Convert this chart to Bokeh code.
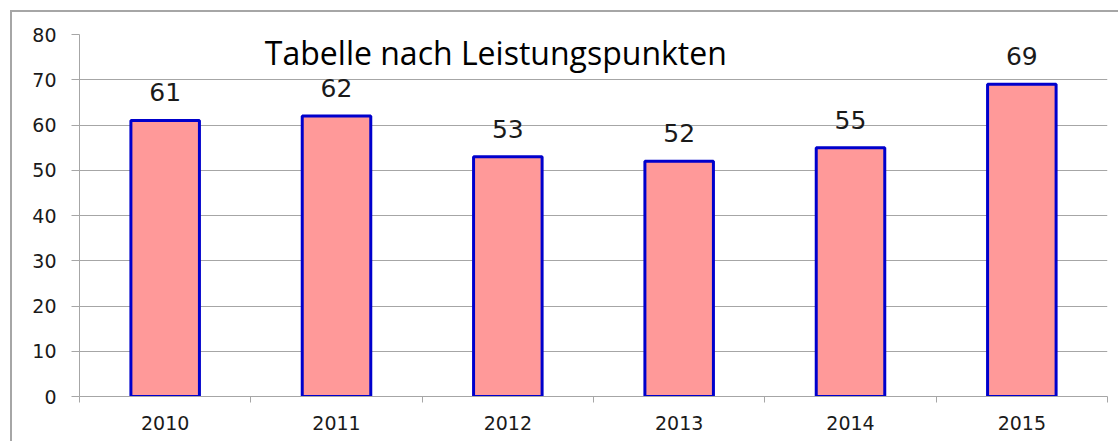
import numpy as np
from bokeh.plotting import figure
from bokeh.models import ColumnDataSource, Range1d, FixedTicker, LabelSet, Label
from bokeh.core.properties import value
from bokeh.embed import file_html
from bokeh.resources import INLINE

years = ["2010", "2011", "2012", "2013", "2014", "2015"]
points = [61, 62, 53, 52, 55, 69]
title_text = "Tabelle nach Leistungspunkten"
y_ticks = [0, 10, 20, 30, 40, 50, 60, 70, 80]

n = len(years)
xpos = np.arange(n) + 0.5
src = ColumnDataSource(dict(x=xpos, top=points, label=[str(v) for v in points]))

p = figure(width=1108, height=431, output_backend="svg", toolbar_location=None,
           x_range=Range1d(0, n), y_range=Range1d(0, 80),
           min_border_left=67, min_border_right=13, min_border_top=22,
           min_border_bottom=47)
p.styles = {"margin-left": "10px", "margin-top": "10px",
            "border-left": "2px solid #a6a6a6", "border-top": "2px solid #a6a6a6"}
p.outline_line_color = None
p.background_fill_color = "white"
p.border_fill_color = "white"

grid_gray = "#a6a6a6"
text_col = "#1a1a1a"

p.vbar(x="x", top="top", width=0.4, bottom=0, source=src,
       fill_color="#ff9999", line_color="#0000cc", line_width=3)

p.add_layout(LabelSet(x="x", y="top", text="label", source=src, y_offset=19,
                      text_align="center", text_baseline="alphabetic",
                      text_font=value("DejaVu Sans"), text_font_size=value("25px"),
                      text_color=value(text_col)))

p.add_layout(Label(x=2.43, y=76.0, text=title_text, text_align="center",
                   text_baseline="middle", text_font="Open Sans",
                   text_font_size="32px", text_color="black"))

# y axis
p.yaxis.ticker = FixedTicker(ticks=y_ticks)
p.yaxis.axis_line_color = grid_gray
p.yaxis.major_tick_line_color = grid_gray
p.yaxis.major_tick_out = 8
p.yaxis.major_tick_in = 0
p.yaxis.minor_tick_line_color = None
p.yaxis.major_label_standoff = 15
p.yaxis.major_label_text_font = "DejaVu Sans"
p.yaxis.major_label_text_font_size = "19px"
p.yaxis.major_label_text_color = text_col

# x axis
p.xaxis.ticker = FixedTicker(ticks=list(xpos), minor_ticks=list(range(n + 1)))
p.xaxis.major_label_overrides = {float(x): y for x, y in zip(xpos, years)}
p.xaxis.axis_line_color = grid_gray
p.xaxis.major_tick_line_color = None
p.xaxis.major_tick_out = 0
p.xaxis.major_tick_in = 0
p.xaxis.minor_tick_line_color = grid_gray
p.xaxis.minor_tick_out = 6
p.xaxis.minor_tick_in = 0
p.xaxis.major_label_standoff = 13
p.xaxis.major_label_text_font = "DejaVu Sans"
p.xaxis.major_label_text_font_size = "19px"
p.xaxis.major_label_text_color = text_col

p.xgrid.grid_line_color = None
p.ygrid.ticker = FixedTicker(ticks=y_ticks)
p.ygrid.grid_line_color = grid_gray

open("out.html", "w").write(file_html(p, INLINE))
